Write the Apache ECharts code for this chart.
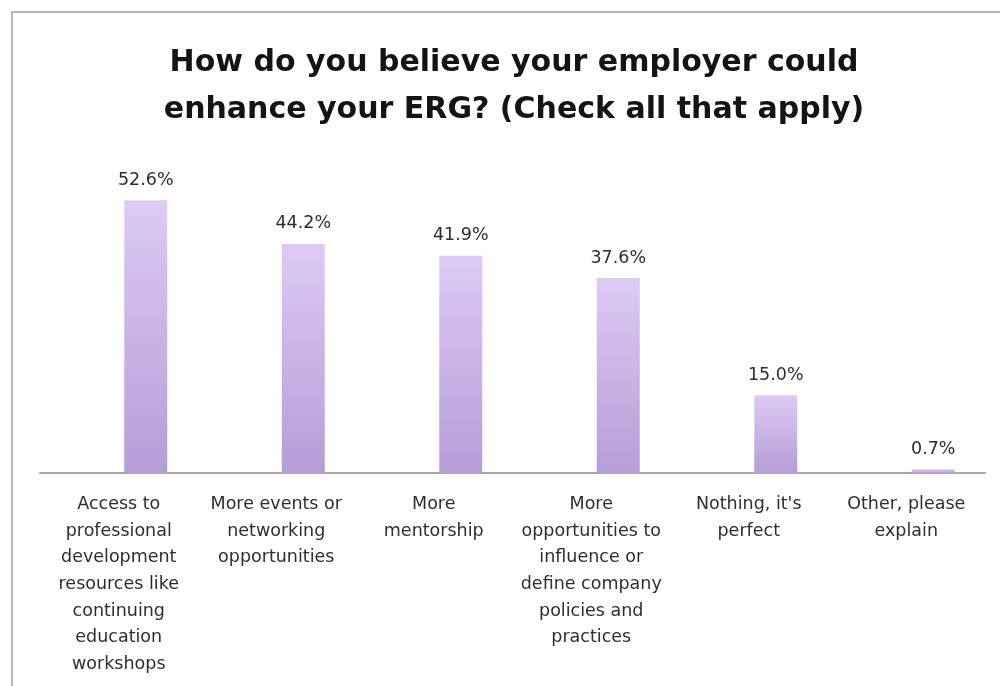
<!DOCTYPE html>
<html>
<head>
<meta charset="utf-8">
<script src="https://cdn.jsdelivr.net/npm/echarts@6/dist/echarts.min.js"></script>
<style>
  html, body { margin: 0; padding: 0; background: #ffffff; }
  #chart { width: 1000px; height: 686px; }
</style>
</head>
<body>
<div id="chart"></div>
<script>
// Survey answers (category labels, wrapped as printed under the axis)
const categories = [
  'Access to\nprofessional\ndevelopment\nresources like\ncontinuing\neducation\nworkshops',
  'More events or\nnetworking\nopportunities',
  'More\nmentorship',
  'More\nopportunities to\ninfluence or\ndefine company\npolicies and\npractices',
  "Nothing, it's\nperfect",
  'Other, please\nexplain'
];

// Share of respondents choosing each answer, in percent
const percentages = [52.6, 44.2, 41.9, 37.6, 15.0, 0.7];

const titleText = 'How do you believe your employer could\nenhance your ERG? (Check all that apply)';

const FONT = '"DejaVu Sans", sans-serif';

const chart = echarts.init(document.getElementById('chart'), null, { renderer: 'canvas' });

chart.setOption({
  animation: false,
  backgroundColor: '#ffffff',
  title: {
    text: titleText,
    left: 514,
    top: 40,
    padding: 0,
    textAlign: 'center',
    textStyle: {
      fontFamily: FONT,
      fontWeight: 'bold',
      fontSize: 30,
      lineHeight: 47,
      color: '#141414'
    }
  },
  graphic: [{
    // frame around the chart area
    type: 'rect',
    shape: { x: 12, y: 12, width: 1010, height: 700 },
    style: { fill: 'none', stroke: '#b8b8b8', lineWidth: 2 },
    silent: true
  }],
  grid: [
    // axis line and category labels
    { left: 40, width: 945, top: 162, bottom: 213, outerBoundsMode: 'none' },
    // bars and value labels
    { left: 67, width: 945, top: 162, bottom: 213, outerBoundsMode: 'none' }
  ],
  xAxis: [{
    type: 'category',
    gridIndex: 0,
    data: categories,
    axisLine: { show: true, lineStyle: { color: '#a8a8a8', width: 2 } },
    axisTick: { show: false },
    axisLabel: {
      interval: 0,
      hideOverlap: false,
      margin: 18,
      fontFamily: FONT,
      fontSize: 17.5,
      lineHeight: 26.7,
      color: '#2e2e2e',
      align: 'center'
    },
    splitLine: { show: false }
  }, {
    type: 'category',
    gridIndex: 1,
    data: categories,
    show: false
  }],
  yAxis: [{
    type: 'value',
    gridIndex: 0,
    min: 0,
    max: 60,
    show: false,
    splitLine: { show: false }
  }, {
    type: 'value',
    gridIndex: 1,
    min: 0,
    max: 60,
    show: false,
    splitLine: { show: false }
  }],
  series: [{
    type: 'bar',
    xAxisIndex: 1,
    yAxisIndex: 1,
    data: percentages,
    barWidth: 43,
    itemStyle: {
      color: new echarts.graphic.LinearGradient(0, 0, 0, 1, [
        { offset: 0, color: '#ddcaf5' },
        { offset: 1, color: '#b59dd7' }
      ])
    },
    label: {
      show: true,
      position: 'top',
      distance: 11,
      fontFamily: FONT,
      fontSize: 17.5,
      color: '#2e2e2e',
      formatter: p => p.value.toFixed(1) + '%'
    }
  }]
});
</script>
</body>
</html>
